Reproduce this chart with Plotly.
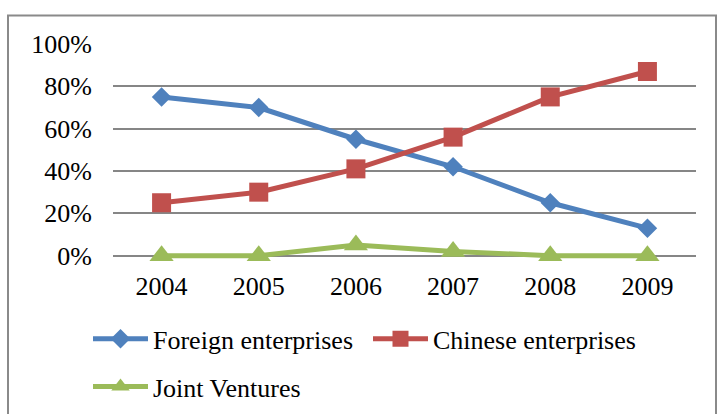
import plotly.graph_objects as go

years = ["2004", "2005", "2006", "2007", "2008", "2009"]
foreign = [0.75, 0.70, 0.55, 0.42, 0.25, 0.13]
chinese = [0.25, 0.30, 0.41, 0.56, 0.75, 0.87]
joint = [0.0, 0.0, 0.05, 0.02, 0.0, 0.0]
y_ticks = [0, 0.2, 0.4, 0.6, 0.8, 1.0]
y_tick_labels = ["0%", "20%", "40%", "60%", "80%", "100%"]

W, H = 718, 414
Y_MIN, Y_MAX = -0.03, 1.0
L, R, T = 113, 22, 43.5
ZERO_PX = 256                      # pixel row of the 0% gridline
UNIT = ZERO_PX - T                 # pixels per 100%
B = H - (ZERO_PX - Y_MIN * UNIT)
pw, ph = W - L - R, H - T - B
X_STANDOFF = 12 - int(round(-Y_MIN * UNIT))

def px_x(p):
    return (p - L) / pw

def px_y(p):
    return (H - B - p) / ph

FONT = "Liberation Serif, Times New Roman, serif"
FS = 26

fig = go.Figure()
fig.add_trace(go.Scatter(x=years, y=foreign, name="Foreign enterprises", mode="lines+markers",
                         line=dict(color="#4F81BD", width=5),
                         marker=dict(symbol="diamond", size=15, color="#4F81BD"), cliponaxis=False,
                         legend="legend"))
fig.add_trace(go.Scatter(x=years, y=chinese, name="Chinese enterprises", mode="lines+markers",
                         line=dict(color="#C0504D", width=5),
                         marker=dict(symbol="square", size=19, color="#C0504D"), cliponaxis=False,
                         legend="legend"))
fig.add_trace(go.Scatter(x=years, y=joint, name="Joint Ventures", mode="lines+markers",
                         line=dict(color="#9BBB59", width=5),
                         marker=dict(symbol="triangle-up", size=21, color="#9BBB59"), cliponaxis=False,
                         legend="legend2"))

fig.add_shape(type="path", xref="paper", yref="paper",
              path=f"M {px_x(8)} {px_y(430)} L {px_x(8)} {px_y(15)} L {px_x(716)} {px_y(15)} L {px_x(716)} {px_y(430)}",
              line=dict(color="#8A8A8A", width=2))

legend_common = dict(orientation="h", xanchor="left", yanchor="top",
                     font=dict(family=FONT, size=FS, color="black"),
                     entrywidth=210, entrywidthmode="pixels", itemwidth=55,
                     bgcolor="rgba(0,0,0,0)")

fig.update_layout(
    width=W, height=H,
    margin=dict(l=L, r=R, t=T, b=B, pad=0, autoexpand=False),
    paper_bgcolor="white", plot_bgcolor="white",
    font=dict(family=FONT, size=FS, color="black"),
    showlegend=True,
    legend=dict(x=px_x(88), y=px_y(316), **legend_common),
    legend2=dict(x=px_x(88), y=px_y(364), **legend_common),
    xaxis=dict(type="category", range=[-0.5, 5.5], showgrid=False, showline=False, zeroline=False,
               ticks="", tickfont=dict(family=FONT, size=FS), ticklabelstandoff=X_STANDOFF),
    yaxis=dict(range=[Y_MIN, Y_MAX], tickvals=y_ticks, ticktext=y_tick_labels, showgrid=True,
               gridcolor="#868686", gridwidth=2, zeroline=False, showline=False, ticks="",
               tickfont=dict(family=FONT, size=FS), ticklabelstandoff=20),
)

fig.write_html("out.html", config={"displayModeBar": False},
               post_script="document.body.style.margin='0';")
